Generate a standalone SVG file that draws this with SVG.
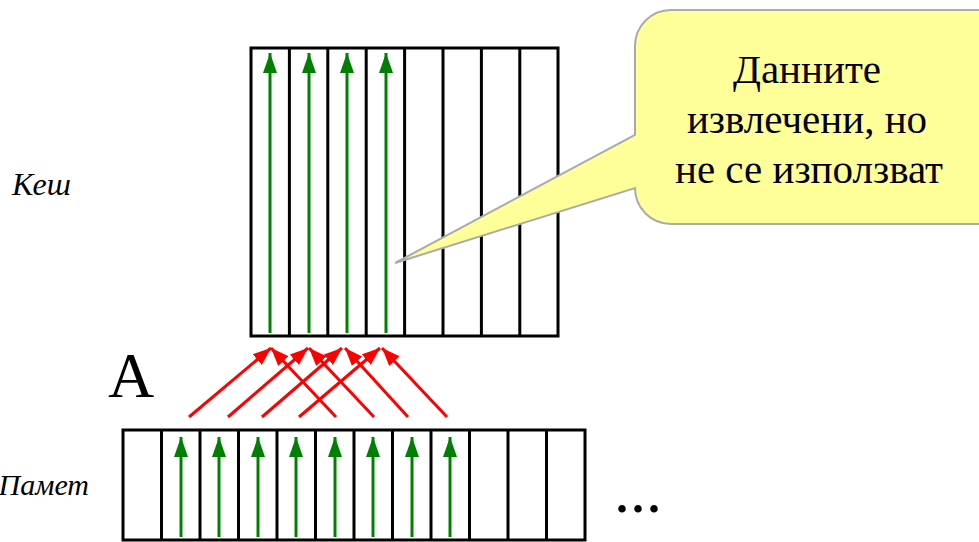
<svg xmlns="http://www.w3.org/2000/svg" width="979" height="542" viewBox="0 0 979 542">
<style>
.grid{fill:none;stroke:#000;stroke-width:3}
.gline{stroke:#000;stroke-width:3}
.green{stroke:#008000;stroke-width:3;fill:none}
.red{stroke:#FF0000;stroke-width:3;fill:none}
.lbl{font-family:"Liberation Serif","Times New Roman",serif;fill:#000}
</style>
<defs>
<marker id="gh" markerUnits="userSpaceOnUse" markerWidth="20" markerHeight="14" refX="20" refY="7" orient="auto">
<path d="M0,0 L20,7 L0,14 Z" fill="#008000"/>
</marker>
<marker id="rh" markerUnits="userSpaceOnUse" markerWidth="18" markerHeight="14" refX="18" refY="7" orient="auto">
<path d="M0,0 L18,7 L0,14 Z" fill="#FF0000"/>
</marker>
</defs>
<rect width="979" height="542" fill="#fff"/>

<g id="cache">
<rect class="grid" x="251" y="48" width="307" height="288"/>
<line class="gline" x1="289.4" y1="48" x2="289.4" y2="336"/>
<line class="gline" x1="327.8" y1="48" x2="327.8" y2="336"/>
<line class="gline" x1="366.2" y1="48" x2="366.2" y2="336"/>
<line class="gline" x1="404.6" y1="48" x2="404.6" y2="336"/>
<line class="gline" x1="443" y1="48" x2="443" y2="336"/>
<line class="gline" x1="481.4" y1="48" x2="481.4" y2="336"/>
<line class="gline" x1="519.8" y1="48" x2="519.8" y2="336"/>
<line class="green" x1="270" y1="333" x2="270" y2="53" marker-end="url(#gh)"/>
<line class="green" x1="309" y1="333" x2="309" y2="53" marker-end="url(#gh)"/>
<line class="green" x1="347" y1="333" x2="347" y2="53" marker-end="url(#gh)"/>
<line class="green" x1="386" y1="333" x2="386" y2="53" marker-end="url(#gh)"/>
</g>

<g id="memory">
<rect class="grid" x="123" y="430" width="462" height="110"/>
<line class="gline" x1="161.5" y1="430" x2="161.5" y2="540"/>
<line class="gline" x1="200" y1="430" x2="200" y2="540"/>
<line class="gline" x1="238.5" y1="430" x2="238.5" y2="540"/>
<line class="gline" x1="277" y1="430" x2="277" y2="540"/>
<line class="gline" x1="315.5" y1="430" x2="315.5" y2="540"/>
<line class="gline" x1="354" y1="430" x2="354" y2="540"/>
<line class="gline" x1="392.5" y1="430" x2="392.5" y2="540"/>
<line class="gline" x1="431" y1="430" x2="431" y2="540"/>
<line class="gline" x1="469.5" y1="430" x2="469.5" y2="540"/>
<line class="gline" x1="508" y1="430" x2="508" y2="540"/>
<line class="gline" x1="546.5" y1="430" x2="546.5" y2="540"/>
<line class="green" x1="181" y1="537" x2="181" y2="437" marker-end="url(#gh)"/>
<line class="green" x1="219" y1="537" x2="219" y2="437" marker-end="url(#gh)"/>
<line class="green" x1="258" y1="537" x2="258" y2="437" marker-end="url(#gh)"/>
<line class="green" x1="296" y1="537" x2="296" y2="437" marker-end="url(#gh)"/>
<line class="green" x1="335" y1="537" x2="335" y2="437" marker-end="url(#gh)"/>
<line class="green" x1="373" y1="537" x2="373" y2="437" marker-end="url(#gh)"/>
<line class="green" x1="412" y1="537" x2="412" y2="437" marker-end="url(#gh)"/>
<line class="green" x1="450" y1="537" x2="450" y2="437" marker-end="url(#gh)"/>
</g>

<g id="connectors">
<line class="red" x1="189" y1="417" x2="271" y2="348" marker-end="url(#rh)"/>
<line class="red" x1="228" y1="417" x2="308" y2="348" marker-end="url(#rh)"/>
<line class="red" x1="262" y1="417" x2="342" y2="348" marker-end="url(#rh)"/>
<line class="red" x1="299" y1="417" x2="380" y2="348" marker-end="url(#rh)"/>
<line class="red" x1="336" y1="417" x2="271" y2="348" marker-end="url(#rh)"/>
<line class="red" x1="374" y1="417" x2="309" y2="348" marker-end="url(#rh)"/>
<line class="red" x1="408" y1="417" x2="345" y2="348" marker-end="url(#rh)"/>
<line class="red" x1="447" y1="417" x2="382" y2="348" marker-end="url(#rh)"/>
</g>

<g id="callout">
<path d="M671,10 H1000 V224 H671 A36,36 0 0 1 635,188 L395,263 L635,135 V46 A36,36 0 0 1 671,10 Z" fill="#FFFF99" stroke="#AAAAAA" stroke-width="2"/>
<text class="lbl" font-size="41" text-anchor="middle" x="807" y="83">Данните</text>
<text class="lbl" font-size="41" text-anchor="middle" x="807" y="133">извлечени, но</text>
<text class="lbl" font-size="41" text-anchor="middle" x="809" y="183">не се използват</text>
</g>

<g id="labels">
<text class="lbl" font-size="32" font-style="italic" x="12" y="195">Кеш</text>
<text class="lbl" font-size="30" font-style="italic" text-anchor="end" x="89" y="495">Памет</text>
<text class="lbl" font-size="64" x="108" y="397">A</text>
<text class="lbl" font-size="64" x="614" y="512">...</text>
</g>
</svg>
